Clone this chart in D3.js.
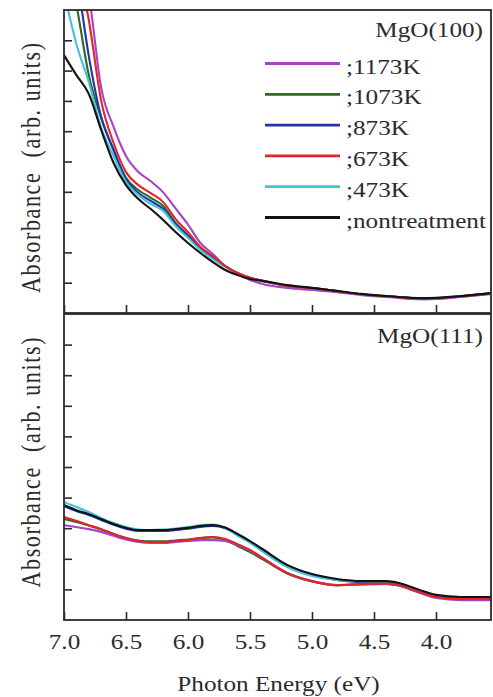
<!DOCTYPE html>
<html>
<head>
<meta charset="utf-8">
<script src="https://cdn.jsdelivr.net/npm/d3@7"></script>
<style>
  html, body { margin: 0; padding: 0; background: #fff; }
  svg { display: block; }
  text { font-family: "Liberation Serif", "Times New Roman", serif; fill: #2b2b2b; }
</style>
</head>
<body>
<svg id="chart" width="493" height="697"></svg>
<script>
// Photon energy grid (eV), shared by both panels
const energy = [7.0, 6.9, 6.8, 6.7, 6.6, 6.5, 6.4, 6.3, 6.2, 6.1, 6.0, 5.9, 5.8, 5.7, 5.6, 5.5, 5.4, 5.2, 5.0, 4.8, 4.6, 4.4, 4.3, 4.2, 4.1, 4.0, 3.8, 3.55];

// MgO(100) absorbance (arb. units)
const top1173 = [14, 12, 10.50, 7.43, 6.14, 5.18, 4.65, 4.35, 3.98, 3.45, 2.92, 2.31, 1.95, 1.55, 1.29, 1.09, 0.96, 0.83, 0.76, 0.69, 0.59, 0.53, 0.50, 0.46, 0.45, 0.46, 0.53, 0.63];
const top1073 = [12, 10.17, 7.85, 6.44, 5.38, 4.46, 4.06, 3.80, 3.53, 2.97, 2.57, 2.15, 1.85, 1.55, 1.32, 1.16, 1.06, 0.89, 0.82, 0.72, 0.62, 0.55, 0.52, 0.49, 0.48, 0.49, 0.55, 0.65];
const top873 = [13, 11.16, 8.48, 6.47, 5.38, 4.42, 3.96, 3.70, 3.43, 2.94, 2.54, 2.11, 1.82, 1.55, 1.32, 1.16, 1.06, 0.89, 0.82, 0.72, 0.62, 0.55, 0.52, 0.49, 0.48, 0.49, 0.55, 0.65];
const top673 = [13, 11.5, 9.67, 7.00, 5.61, 4.65, 4.22, 3.96, 3.66, 3.10, 2.67, 2.18, 1.88, 1.55, 1.32, 1.16, 1.06, 0.89, 0.82, 0.72, 0.62, 0.55, 0.52, 0.49, 0.48, 0.49, 0.55, 0.65];
const top473 = [10.59, 8.88, 7.62, 6.11, 5.18, 4.32, 3.89, 3.60, 3.37, 2.87, 2.48, 2.08, 1.78, 1.52, 1.32, 1.16, 1.06, 0.89, 0.82, 0.72, 0.62, 0.55, 0.52, 0.49, 0.48, 0.49, 0.55, 0.65];
const topNon = [8.51, 7.85, 7.23, 6.04, 4.95, 4.22, 3.76, 3.43, 3.07, 2.67, 2.31, 1.98, 1.68, 1.42, 1.25, 1.12, 1.06, 0.92, 0.83, 0.73, 0.63, 0.56, 0.53, 0.50, 0.49, 0.50, 0.56, 0.66];

// MgO(111) absorbance (arb. units)
const bot1173 = [3.10, 3.04, 2.97, 2.88, 2.75, 2.63, 2.55, 2.52, 2.52, 2.55, 2.58, 2.61, 2.61, 2.58, 2.45, 2.27, 2.03, 1.54, 1.27, 1.14, 1.17, 1.18, 1.13, 0.99, 0.84, 0.72, 0.65, 0.65];
const bot1073 = [3.30, 3.20, 3.09, 2.96, 2.81, 2.68, 2.60, 2.57, 2.57, 2.60, 2.63, 2.68, 2.70, 2.61, 2.42, 2.22, 1.99, 1.52, 1.26, 1.14, 1.16, 1.18, 1.13, 0.99, 0.86, 0.75, 0.70, 0.70];
const bot873 = [3.72, 3.56, 3.43, 3.27, 3.11, 2.98, 2.91, 2.91, 2.91, 2.94, 2.98, 3.04, 3.07, 3.00, 2.78, 2.55, 2.28, 1.77, 1.46, 1.31, 1.24, 1.24, 1.18, 1.05, 0.91, 0.78, 0.74, 0.74];
const bot673 = [3.37, 3.24, 3.10, 2.97, 2.81, 2.68, 2.58, 2.55, 2.55, 2.58, 2.61, 2.68, 2.71, 2.65, 2.48, 2.29, 2.03, 1.54, 1.27, 1.14, 1.18, 1.19, 1.14, 1.01, 0.87, 0.75, 0.69, 0.69];
const bot473 = [3.86, 3.69, 3.53, 3.33, 3.17, 3.04, 2.96, 2.94, 2.96, 2.99, 3.04, 3.10, 3.12, 3.01, 2.76, 2.52, 2.24, 1.73, 1.44, 1.31, 1.26, 1.24, 1.18, 1.03, 0.90, 0.79, 0.75, 0.75];
const botNon = [3.76, 3.59, 3.46, 3.30, 3.14, 3.01, 2.94, 2.94, 2.94, 2.97, 3.01, 3.07, 3.10, 3.02, 2.81, 2.58, 2.32, 1.80, 1.50, 1.34, 1.27, 1.27, 1.21, 1.08, 0.94, 0.82, 0.75, 0.75];

const legendLabels = [";1173K", ";1073K", ";873K", ";673K", ";473K", ";nontreatment"];
const seriesColors = ["#a444c6", "#2e6a22", "#2434a8", "#e2242a", "#44c2d6", "#121212"];
const xTickValues = [7.0, 6.5, 6.0, 5.5, 5.0, 4.5, 4.0];
const yTickValues = [1, 2, 3, 4, 5, 6, 7, 8, 9];
const panelTitles = ["MgO(100)", "MgO(111)"];
const xTitle = "Photon Energy (eV)";
const yTitle = "Absorbance  (arb. units)";

const topSeries = [top1173, top1073, top873, top673, top473, topNon];
const botSeries = [bot1173, bot1073, bot873, bot673, bot473, botNon];
// drawing order: later ones on top
const drawOrder = [1, 2, 0, 4, 3, 5];

const svg = d3.select("#chart");
const left = 64, right = 491;
const x = d3.scaleLinear().domain([7.0, 3.55]).range([left, 491.8]);

const panels = [
  { top: 10, bottom: 313, series: topSeries, title: panelTitles[0], titleY: 36.5, labelY: 168 },
  { top: 314, bottom: 620, series: botSeries, title: panelTitles[1], titleY: 343, labelY: 462.5 }
];

const STRETCH = 1.2;

panels.forEach((p, pi) => {
  const y = d3.scaleLinear().domain([0, 10]).range([p.bottom, p.top]);
  const clipId = "clip" + pi;
  svg.append("clipPath").attr("id", clipId)
    .append("rect").attr("x", left).attr("y", p.top)
    .attr("width", right - left).attr("height", p.bottom - p.top);

  const line = d3.line()
    .x((d, i) => x(energy[i]))
    .y(d => y(d))
    .curve(d3.curveMonotoneX);

  const g = svg.append("g").attr("clip-path", `url(#${clipId})`);
  drawOrder.forEach(k => {
    g.append("path")
      .datum(p.series[k])
      .attr("d", line)
      .attr("fill", "none")
      .attr("stroke", seriesColors[k])
      .attr("stroke-width", 2.1)
      .attr("stroke-linejoin", "round");
  });

  // left ticks, pointing inward
  const ya = svg.append("g").attr("transform", `translate(${left},0)`)
    .call(d3.axisLeft(y).tickValues(yTickValues).tickSize(-8).tickFormat(""));
  ya.select(".domain").remove();
  ya.selectAll("line").attr("stroke", "#2b2b2b").attr("stroke-width", 1.6);

  // bottom ticks, pointing inward
  const xa = svg.append("g").attr("transform", `translate(0,${p.bottom})`)
    .call(d3.axisBottom(x).tickValues(xTickValues).tickSize(-8).tickPadding(14)
      .tickFormat(pi === 1 ? d3.format(".1f") : ""));
  xa.select(".domain").remove();
  xa.selectAll("line").attr("stroke", "#2b2b2b").attr("stroke-width", 1.6);
  xa.selectAll("text")
    .attr("font-size", 21)
    .attr("fill", "#2b2b2b")
    .attr("transform", `scale(${STRETCH},1)`);

  // frame
  svg.append("rect")
    .attr("x", left).attr("y", p.top)
    .attr("width", right - left).attr("height", p.bottom - p.top)
    .attr("fill", "none").attr("stroke", "#2b2b2b").attr("stroke-width", 1.8);

  // panel title
  svg.append("text")
    .attr("transform", `translate(483,${p.titleY}) scale(${STRETCH},1)`)
    .attr("text-anchor", "end")
    .attr("font-size", 21)
    .text(p.title);

  // y axis title
  svg.append("text")
    .attr("transform", `translate(39.5,${p.labelY}) rotate(-90) scale(1,${STRETCH})`)
    .attr("text-anchor", "middle")
    .attr("font-size", 22)
    .attr("textLength", 250)
    .attr("lengthAdjust", "spacing")
    .style("white-space", "pre")
    .text(yTitle);
});

// legend in the MgO(100) panel
const legendY0 = 63.5, legendStep = 30.8;
legendLabels.forEach((lab, i) => {
  const ly = legendY0 + i * legendStep;
  svg.append("line")
    .attr("x1", 265).attr("x2", 340).attr("y1", ly).attr("y2", ly)
    .attr("stroke", seriesColors[i]).attr("stroke-width", 2.8);
  svg.append("text")
    .attr("transform", `translate(346,${ly + 10}) scale(${STRETCH},1)`)
    .attr("font-size", 21)
    .text(lab);
});

// x axis title
svg.append("text")
  .attr("transform", `translate(278.5,691) scale(${STRETCH},1)`)
  .attr("text-anchor", "middle")
  .attr("font-size", 21)
  .text(xTitle);
</script>
</body>
</html>
